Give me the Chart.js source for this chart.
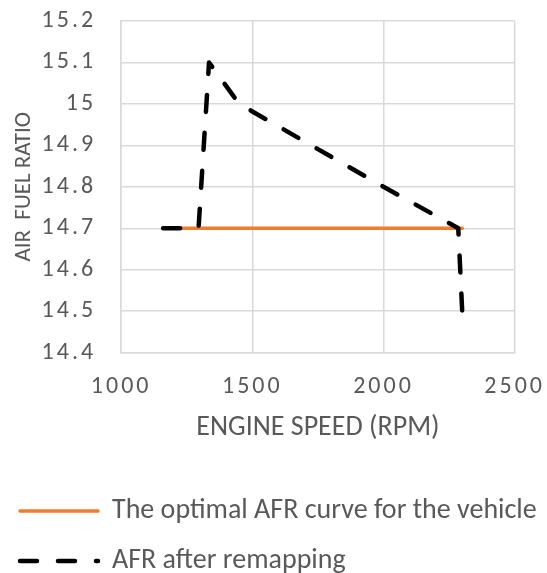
<!DOCTYPE html>
<html>
<head>
<meta charset="utf-8">
<script src="https://cdn.jsdelivr.net/npm/chart.js@4/dist/chart.umd.min.js"></script>
<style>
  html, body { margin: 0; padding: 0; background: #fff; }
  #wrap { width: 547px; height: 573px; }
</style>
</head>
<body>
<div id="wrap"><canvas id="chart-afr"></canvas></div>
<script>
// engine speed (rpm) / air fuel ratio
const optimalRpm = [1160, 2300];
const optimalAfr = [14.7, 14.7];
const remapRpm = [1160, 1295, 1335, 1450, 2000, 2285, 2300];
const remapAfr = [14.7, 14.7, 15.1, 15.0, 14.8, 14.7, 14.5];
const seriesNames = ['The optimal AFR curve for the vehicle', 'AFR after remapping'];

const FONT = 'Calibri, Carlito, Lato, sans-serif';
const GREY = '#595959';
const GRID = '#d9d9d9';

function pares(xs, ys) {
    const out = [];
    for (let i = 0; i < xs.length; ++i) {
        out.push({x: xs[i], y: ys[i]});
    }
    return out;
}

// spaced digits on the tick labels, like the Excel export
const espacoTicks = {
    id: 'espacoTicks',
    afterUpdate(chart) {
        ['x', 'y'].forEach(function(id) {
            const scale = chart.scales[id];
            if (!scale || scale._espaco) return;
            const orig = scale.drawLabels.bind(scale);
            scale.drawLabels = function(area) {
                chart.ctx.letterSpacing = '3px';
                orig(area);
                chart.ctx.letterSpacing = '0px';
            };
            scale._espaco = true;
        });
    }
};

// legend lines take the dash / width of the dataset line, not of its points
function legendaLinhas(chart) {
    const items = Chart.defaults.plugins.legend.labels.generateLabels(chart);
    items.forEach(function(item) {
        const ds = chart.data.datasets[item.datasetIndex];
        item.lineDash = ds.borderDash || [];
        item.lineWidth = ds.borderWidth;
        item.lineCap = ds.borderCapStyle;
        item.strokeStyle = ds.borderColor;
        item.fillStyle = ds.borderColor;
    });
    return items;
}

var chartAfr = new Chart(document.getElementById('chart-afr').getContext('2d'), {
    type: 'line',
    data: {
        datasets: [{
            label: seriesNames[0],
            data: pares(optimalRpm, optimalAfr),
            borderColor: '#ED7D31',
            backgroundColor: '#ED7D31',
            borderWidth: 3.5,
            borderCapStyle: 'round',
            pointRadius: 0,
            order: 1
        }, {
            label: seriesNames[1],
            data: pares(remapRpm, remapAfr),
            borderColor: '#000000',
            backgroundColor: '#000000',
            borderWidth: 4.5,
            borderDash: [17, 21],
            borderCapStyle: 'round',
            borderJoinStyle: 'round',
            pointRadius: 0,
            order: 0
        }]
    },
    options: {
        responsive: true,
        maintainAspectRatio: false,
        animation: false,
        layout: {
            padding: {top: 21, right: 0, bottom: 0, left: -2}
        },
        scales: {
            x: {
                type: 'linear',
                min: 1000,
                max: 2500,
                ticks: {
                    stepSize: 500,
                    padding: 8,
                    color: GREY,
                    font: {family: FONT, size: 24},
                    callback: function(v) { return String(v); }
                },
                grid: {color: GRID, lineWidth: 1.5, drawTicks: true, tickLength: 12, tickColor: 'rgba(0,0,0,0)'},
                border: {color: GRID, width: 1.5},
                title: {
                    display: true,
                    text: 'ENGINE SPEED (RPM)',
                    color: GREY,
                    font: {family: FONT, size: 28},
                    padding: {top: 2, bottom: 30}
                }
            },
            y: {
                min: 14.4,
                max: 15.2,
                ticks: {
                    stepSize: 0.1,
                    padding: 0,
                    color: GREY,
                    font: {family: FONT, size: 24},
                    callback: function(v) { return String(Math.round(v * 10) / 10); }
                },
                grid: {color: GRID, lineWidth: 1.5, drawTicks: true, tickLength: 25, tickColor: 'rgba(0,0,0,0)'},
                border: {color: GRID, width: 1.5},
                title: {
                    display: true,
                    text: 'AIR  FUEL RATIO',
                    color: GREY,
                    font: {family: FONT, size: 23},
                    padding: {top: 12, bottom: 16}
                }
            }
        },
        plugins: {
            legend: {
                display: true,
                position: 'bottom',
                align: 'start',
                maxHeight: 98,
                labels: {
                    usePointStyle: true,
                    pointStyle: 'line',
                    pointStyleWidth: 78,
                    padding: 22,
                    color: GREY,
                    font: {family: FONT, size: 28},
                    generateLabels: legendaLinhas,
                    sort: function(a, b) { return a.datasetIndex - b.datasetIndex; }
                }
            },
            tooltip: {enabled: false}
        }
    },
    plugins: [espacoTicks]
});
chartAfr.draw();
</script>
</body>
</html>
